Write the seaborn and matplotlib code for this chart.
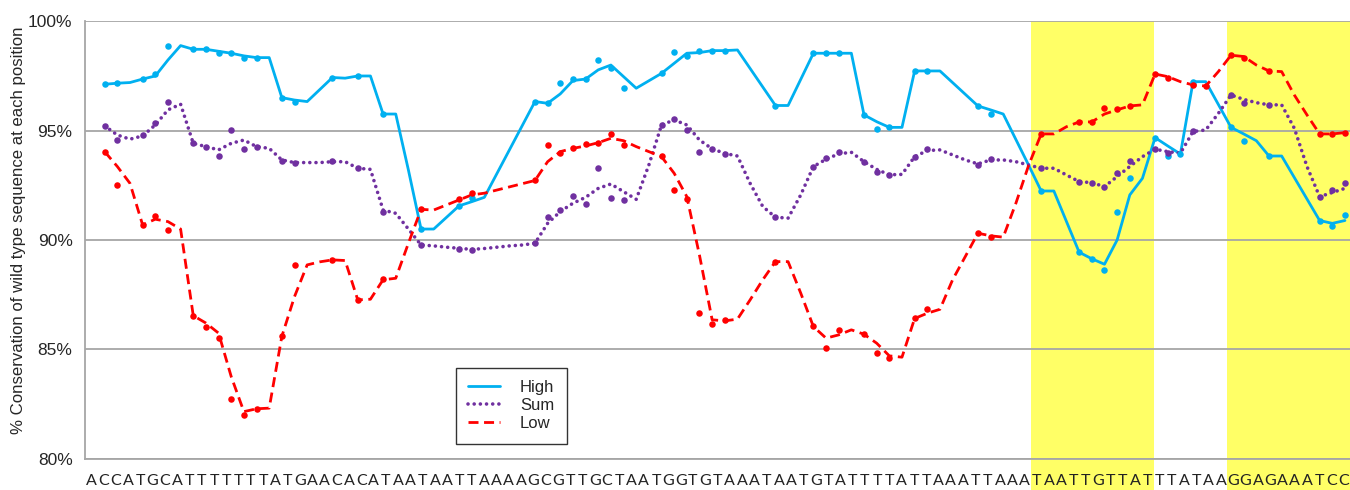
import numpy as np
import pandas as pd
import matplotlib
matplotlib.use("Agg")
import matplotlib.pyplot as plt
from matplotlib.patches import Rectangle
import seaborn as sns

# ---- data (position index along the sequence, % conservation) ----
sequence = "ACCATGCATTTTTTTATGAACACATAATAATTAAAAGCGTTGCTAATGGTGTAAATAATGTATTTTATTAAATTAAATAATTGTTATTTATAAGGAGAAATCC"

high_line_x = [1, 2, 3, 4, 5, 6, 7, 8, 9, 10, 11, 12, 13, 14, 15, 16, 17, 19, 20, 21, 22, 23, 24, 25,
               26, 27, 29, 30, 31, 35, 36, 37, 38, 39, 40, 41, 42, 43, 45, 46, 47, 48, 49, 50, 51,
               54, 55, 57, 58, 59, 60, 61, 62, 63, 64, 65, 66, 67, 70, 71, 72, 74, 75, 76, 78, 79,
               80, 81, 82, 83, 84, 85, 86, 87, 88, 90, 91, 92, 93, 94, 97, 98, 99]
high_line_y = [97.12, 97.17, 97.20, 97.36, 97.50, 98.23, 98.89, 98.72, 98.72, 98.63, 98.54, 98.42,
               98.34, 98.34, 96.51, 96.40, 96.33, 97.43, 97.40, 97.50, 97.50, 95.76, 95.76, 93.20,
               90.50, 90.50, 91.56, 91.75, 91.95, 96.33, 96.25, 96.68, 97.29, 97.36, 97.78, 98.00,
               97.47, 96.94, 97.62, 98.08, 98.54, 98.57, 98.66, 98.66, 98.69, 96.15, 96.15, 98.54,
               98.54, 98.54, 98.54, 95.72, 95.41, 95.15, 95.15, 97.73, 97.73, 97.73, 96.13, 95.95,
               95.76, 93.43, 92.24, 92.24, 89.44, 89.14, 88.89, 90.00, 92.06, 92.82, 94.68, 94.30,
               93.93, 97.24, 97.24, 95.15, 94.85, 94.54, 93.84, 93.84, 90.89, 90.76, 90.89]

high_dot_x = [1, 2, 4, 5, 6, 8, 9, 10, 11, 12, 13, 15, 16, 19, 21, 23, 26, 29, 30, 35, 36, 37, 38,
              39, 40, 41, 42, 45, 46, 47, 48, 49, 50, 54, 57, 58, 59, 61, 62, 63, 65, 66, 70, 71,
              75, 78, 79, 80, 81, 82, 84, 85, 86, 87, 90, 91, 93, 97, 98, 99]
high_dot_y = [97.12, 97.17, 97.36, 97.59, 98.89, 98.72, 98.72, 98.54, 98.54, 98.31, 98.34, 96.48,
              96.33, 97.43, 97.50, 95.76, 90.50, 91.56, 91.90, 96.33, 96.25, 97.17, 97.36, 97.36,
              98.23, 97.85, 96.94, 97.62, 98.61, 98.43, 98.66, 98.66, 98.66, 96.15, 98.54, 98.54,
              98.54, 95.72, 95.06, 95.15, 97.73, 97.73, 96.13, 95.75, 92.24, 89.44, 89.14, 88.63,
              91.30, 92.82, 94.68, 93.86, 93.93, 97.24, 95.15, 94.53, 93.84, 90.89, 90.64, 91.15]

sum_line_x = [1, 2, 3, 4, 5, 6, 7, 8, 9, 10, 11, 12, 13, 14, 15, 16, 18, 19, 20, 21, 22, 23, 24, 25,
              26, 27, 28, 29, 30, 31, 32, 33, 34, 35, 36, 37, 38, 39, 40, 41, 42, 43, 44, 45, 46,
              47, 48, 49, 50, 51, 52, 53, 54, 55, 56, 57, 58, 59, 60, 61, 62, 63, 64, 65, 66, 67,
              68, 69, 70, 71, 72, 73, 74, 75, 76, 77, 78, 79, 80, 81, 82, 83, 84, 85, 86, 87, 88,
              89, 90, 91, 92, 93, 94, 95, 96, 97, 98, 99]
sum_line_y = [95.22, 94.80, 94.61, 94.76, 95.26, 95.95, 96.21, 94.42, 94.27, 94.12, 94.42, 94.57,
              94.27, 94.19, 93.66, 93.54, 93.54, 93.58, 93.58, 93.28, 93.23, 91.37, 91.22, 90.50,
              89.77, 89.73, 89.67, 89.62, 89.57, 89.61, 89.67, 89.73, 89.77, 89.85, 90.76, 91.30,
              91.68, 91.95, 92.36, 92.56, 92.21, 91.86, 93.43, 95.26, 95.49, 95.26, 94.57, 94.17,
              93.96, 93.84, 92.59, 91.53, 91.04, 91.00, 92.06, 93.36, 93.69, 93.94, 94.01, 93.58,
              93.23, 92.98, 93.00, 93.81, 94.09, 94.12, 93.89, 93.66, 93.48, 93.66, 93.66, 93.58,
              93.43, 93.28, 93.28, 92.97, 92.67, 92.62, 92.44, 92.90, 93.36, 93.81, 94.15, 94.04,
              93.97, 94.96, 95.03, 95.79, 96.63, 96.43, 96.28, 96.18, 96.18, 95.11, 93.36, 91.98,
              92.17, 92.36]

sum_dot_x = [1, 2, 4, 5, 6, 8, 9, 10, 11, 12, 13, 15, 16, 19, 21, 23, 26, 29, 30, 35, 36, 37, 38,
             39, 40, 41, 42, 45, 46, 47, 48, 49, 50, 54, 57, 58, 59, 61, 62, 63, 65, 66, 70, 71,
             75, 78, 79, 80, 81, 82, 84, 85, 87, 90, 91, 93, 97, 98, 99]
sum_dot_y = [95.22, 94.57, 94.79, 95.37, 96.30, 94.42, 94.24, 93.84, 95.03, 94.15, 94.24, 93.63,
             93.54, 93.61, 93.28, 91.30, 89.77, 89.59, 89.55, 89.85, 91.07, 91.37, 92.01, 91.63,
             93.31, 91.91, 91.83, 95.26, 95.54, 95.03, 94.04, 94.15, 93.93, 91.04, 93.33, 93.74,
             94.01, 93.58, 93.10, 92.98, 93.81, 94.15, 93.43, 93.71, 93.28, 92.67, 92.62, 92.44,
             93.05, 93.63, 94.15, 93.97, 95.00, 96.63, 96.28, 96.18, 91.98, 92.29, 92.62]

low_line_x = [1, 2, 3, 4, 5, 6, 7, 8, 9, 10, 11, 12, 13, 14, 15, 16, 17, 18, 19, 20, 21, 22, 23, 24,
              25, 26, 27, 28, 29, 30, 31, 35, 36, 37, 38, 39, 40, 41, 42, 43, 44, 45, 46, 47, 48,
              49, 50, 51, 52, 53, 54, 55, 56, 57, 58, 59, 60, 61, 62, 63, 64, 65, 66, 67, 68, 69,
              70, 71, 72, 73, 74, 75, 76, 77, 78, 79, 80, 81, 82, 83, 84, 85, 86, 87, 88, 89, 90,
              91, 92, 93, 94, 95, 96, 97, 98, 99]
low_line_y = [94.04, 93.36, 92.59, 90.69, 90.95, 90.84, 90.50, 86.54, 86.20, 85.74, 83.75, 82.15,
              82.28, 82.31, 85.59, 87.41, 88.86, 89.00, 89.09, 89.06, 87.26, 87.29, 88.18, 88.25,
              89.85, 91.40, 91.37, 91.60, 91.83, 92.06, 92.14, 92.72, 93.58, 94.04, 94.19, 94.30,
              94.45, 94.65, 94.54, 94.27, 94.04, 93.81, 93.05, 91.98, 89.30, 86.35, 86.30, 86.38,
              87.26, 88.18, 89.01, 89.01, 87.57, 86.04, 85.51, 85.66, 85.89, 85.69, 85.28, 84.70,
              84.64, 86.41, 86.65, 86.83, 88.18, 89.24, 90.31, 90.19, 90.13, 91.68, 93.40, 94.85,
              94.85, 95.18, 95.40, 95.40, 95.76, 95.95, 96.13, 96.18, 97.59, 97.47, 97.24, 97.09,
              97.04, 97.70, 98.45, 98.39, 98.00, 97.73, 97.70, 96.63, 95.72, 94.85, 94.85, 94.91]

low_dot_x = [1, 2, 4, 5, 6, 8, 9, 10, 11, 12, 13, 15, 16, 19, 21, 23, 26, 29, 30, 35, 36, 37, 38,
             39, 40, 41, 42, 45, 46, 47, 48, 49, 50, 54, 57, 58, 59, 61, 62, 63, 65, 66, 70, 71,
             75, 78, 79, 80, 81, 82, 84, 85, 87, 88, 90, 91, 93, 97, 98, 99]
low_dot_y = [94.04, 92.52, 90.69, 91.10, 90.46, 86.54, 86.01, 85.51, 82.73, 82.00, 82.28, 85.59,
             88.86, 89.09, 87.26, 88.21, 91.40, 91.88, 92.14, 92.75, 94.35, 93.97, 94.19, 94.39,
             94.45, 94.83, 94.35, 93.84, 92.29, 91.86, 86.68, 86.15, 86.35, 89.01, 86.07, 85.05,
             85.89, 85.69, 84.85, 84.59, 86.41, 86.83, 90.31, 90.13, 94.85, 95.40, 95.40, 96.05,
             95.99, 96.13, 97.59, 97.43, 97.09, 97.04, 98.45, 98.31, 97.73, 94.85, 94.85, 94.91]

regions = ["N1", "N2"]
region_letters = [(77, 87), (93, 103)]   # letter index ranges of the highlighted boxes

yticks = [80, 85, 90, 95, 100]

# ---- styling ----
c_high = "#00B0F0"
c_sum = "#7030A0"
c_low = "#FF0000"
grid_c = "#A6A6A6"

sns.set_style("white")
plt.rcParams["font.family"] = ["Liberation Sans", "DejaVu Sans"]

fig = plt.figure(figsize=(13.5, 4.9), dpi=100)
ax = fig.add_axes([0.063, 0.064, 0.937, 0.8925])

# highlighted regions (reach down behind the letters)
n_letters = len(sequence)
for name, (a, b) in zip(regions, region_letters):
    ax.add_patch(Rectangle((a / n_letters, -0.075), (b - a) / n_letters, 1.075,
                           transform=ax.transAxes, facecolor="#FFFF66", edgecolor="none",
                           clip_on=False, zorder=0))
    ax.text((a + b) / 2 / n_letters, 82.45, name, transform=ax.get_xaxis_transform(),
            ha="center", va="center", fontsize=12, zorder=5)

for v in yticks:
    ax.axhline(v, color=grid_c, lw=1.3, zorder=1)

sns.lineplot(x=high_line_x, y=high_line_y, ax=ax, color=c_high, lw=2.0, label="High", zorder=3)
sns.lineplot(x=sum_line_x, y=sum_line_y, ax=ax, color=c_sum, lw=2.6, label="Sum",
             linestyle=(0, (0.01, 1.7)), dash_capstyle="round", zorder=3)
sns.lineplot(x=low_line_x, y=low_line_y, ax=ax, color=c_low, lw=2.0, label="Low",
             linestyle=(0, (3.6, 2.0)), zorder=3)

sns.scatterplot(x=high_dot_x, y=high_dot_y, ax=ax, color=c_high, s=22, linewidth=0, zorder=4)
sns.scatterplot(x=sum_dot_x, y=sum_dot_y, ax=ax, color=c_sum, s=22, linewidth=0, zorder=4)
sns.scatterplot(x=low_dot_x, y=low_dot_y, ax=ax, color=c_low, s=22, linewidth=0, zorder=4)

ax.set_xlim(-0.55, 99.4)
ax.set_ylim(80, 100)
ax.set_xticks([])
ax.set_yticks(yticks)
ax.set_yticklabels([f"{v}%" for v in yticks], fontsize=12.5)
ax.tick_params(axis="y", length=0, pad=9)
ax.yaxis.offsetText.set_visible(False)
for t in (ax.title, ax._left_title, ax._right_title):
    t.set_visible(False)
ax.set_ylabel("% Conservation of wild type sequence at each position", fontsize=12.1)
ax.yaxis.set_label_coords(-0.047, 0.523)

for side in ["top", "right"]:
    ax.spines[side].set_visible(False)
for side in ["left", "bottom"]:
    ax.spines[side].set_color(grid_c)
    ax.spines[side].set_linewidth(1.3)

# sequence letters under the axis
for k, ch in enumerate(sequence):
    ax.text((k + 0.5) / n_letters, -0.051, ch, transform=ax.transAxes, ha="center", va="center",
            fontsize=11.5, family=["Lato", "DejaVu Sans"], color="#222222")

leg = ax.legend(loc="lower left", bbox_to_anchor=(0.293, 0.034), borderaxespad=0, fontsize=12,
                frameon=True, fancybox=False, handlelength=1.9, handletextpad=1.2,
                labelspacing=0.18, borderpad=0.75)
leg.get_frame().set_edgecolor("black")
leg.get_frame().set_linewidth(1.0)

fig.savefig("out.png", dpi=100)
